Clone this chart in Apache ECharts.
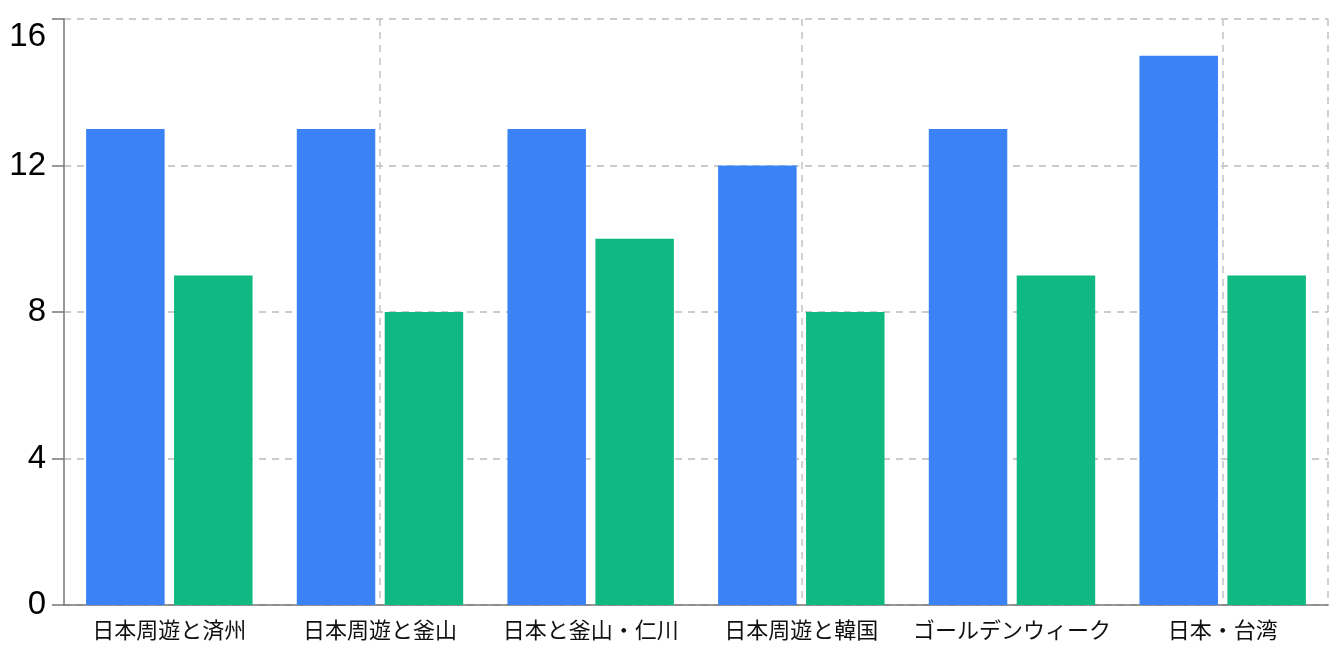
<!DOCTYPE html>
<html>
<head>
<meta charset="utf-8">
<script src="https://cdn.jsdelivr.net/npm/echarts@6/dist/echarts.min.js"></script>
<style>
  html, body { margin: 0; padding: 0; background: #fff; }
  #chart { width: 1341px; height: 658px; }
</style>
</head>
<body>
<div id="chart"></div>
<script>
var categories = ['日本周遊と済州', '日本周遊と釜山', '日本と釜山・仁川', '日本周遊と韓国', 'ゴールデンウィーク', '日本・台湾'];
var blueValues = [13, 13, 13, 12, 13, 15];
var greenValues = [9, 8, 10, 8, 9, 9];
var yTicks = [0, 4, 8, 12, 16];

// helper axis: half-category steps, only used for the dashed vertical grid lines
var halfSteps = [];
for (var i = 0; i <= categories.length * 2; i++) halfSteps.push(i);

var gridDash = { color: '#cccccc', width: 1.8, type: [7, 6] };
var yMax = yTicks[yTicks.length - 1];

var myChart = echarts.init(document.getElementById('chart'));
var option = {
    animation: false,
    grid: { left: 64, right: 13, top: 19, bottom: 53, containLabel: false },
    xAxis: [
        {
            type: 'category',
            data: categories,
            axisLine: { lineStyle: { color: '#777', width: 1.5 } },
            axisTick: { alignWithLabel: true, length: 12, lineStyle: { color: '#777', width: 1.5 } },
            axisLabel: {
                color: '#111',
                fontSize: 22,
                fontFamily: '"Noto Sans CJK JP", sans-serif',
                margin: 14,
                interval: 0
            },
            splitLine: { show: false }
        },
        {
            type: 'category',
            position: 'bottom',
            boundaryGap: false,
            data: halfSteps,
            axisLine: { show: false },
            axisTick: { show: false },
            axisLabel: { show: false },
            splitLine: {
                show: true,
                interval: function (idx) { return idx % 4 === 3 || idx === halfSteps.length - 1; },
                lineStyle: gridDash
            }
        }
    ],
    yAxis: {
        type: 'value',
        min: yTicks[0],
        max: yMax,
        interval: 4,
        axisLine: { show: true, lineStyle: { color: '#777', width: 1.5 } },
        axisTick: { show: true, length: 12, lineStyle: { color: '#777', width: 1.5 } },
        axisLabel: {
            color: '#000',
            fontSize: 33,
            fontFamily: '"Liberation Sans", Arial, sans-serif',
            margin: 18,
            formatter: function (v) {
                return v === yMax ? '{top|' + v + '}' : String(v);
            },
            rich: {
                top: {
                    fontSize: 33,
                    fontFamily: '"Liberation Sans", Arial, sans-serif',
                    color: '#000',
                    padding: [36, 0, 0, 0]
                }
            }
        },
        splitLine: { show: true, lineStyle: gridDash }
    },
    series: [
        {
            type: 'bar',
            data: blueValues,
            barWidth: 78.5,
            barGap: '12%',
            itemStyle: { color: '#3B82F6' }
        },
        {
            type: 'bar',
            data: greenValues,
            barWidth: 78.5,
            itemStyle: { color: '#10B981' }
        }
    ]
};
myChart.setOption(option);
</script>
</body>
</html>
